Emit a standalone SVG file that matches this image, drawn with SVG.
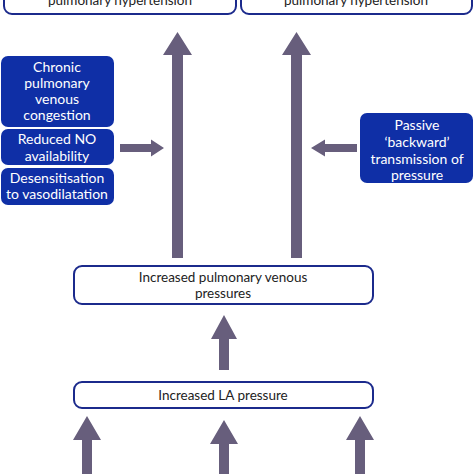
<svg xmlns="http://www.w3.org/2000/svg" width="474" height="474" viewBox="0 0 474 474">
<defs>
<style>
.wb{fill:#fff;stroke:#1b2a8c;stroke-width:2}
.bb{fill:#0f2fa6}
.t{font-family:Lato,"Open Sans","Liberation Sans",sans-serif;font-size:13.5px;fill:#222;text-anchor:middle}
.tw{font-family:Lato,"Open Sans","Liberation Sans",sans-serif;font-size:14px;fill:#fff;text-anchor:middle}
.ar{fill:#675e7c}
</style>
</defs>
<rect width="474" height="474" fill="#fff"/>
<g id="top-left">
<rect class="wb" x="4" y="-20" width="232" height="34" rx="8"/>
<text class="t" x="120" y="5">pulmonary hypertension</text>
</g>
<g id="top-right">
<rect class="wb" x="241" y="-20" width="231" height="34" rx="8"/>
<text class="t" x="356" y="5">pulmonary hypertension</text>
</g>
<g id="chronic">
<rect class="bb" x="1" y="56" width="113" height="71" rx="7"/>
<text class="tw" x="57" y="72">Chronic</text>
<text class="tw" x="57" y="88">pulmonary</text>
<text class="tw" x="57" y="104">venous</text>
<text class="tw" x="57" y="120">congestion</text>
</g>
<g id="reduced-no">
<rect class="bb" x="1" y="129" width="113" height="36" rx="7"/>
<text class="tw" x="57" y="144">Reduced NO</text>
<text class="tw" x="57" y="161">availability</text>
</g>
<g id="desens">
<rect class="bb" x="1" y="168" width="113" height="37" rx="7"/>
<text class="tw" x="57" y="183">Desensitisation</text>
<text class="tw" x="57" y="199">to vasodilatation</text>
</g>
<g id="passive">
<rect class="bb" x="360" y="113" width="113" height="70" rx="7"/>
<text class="tw" x="417" y="130">Passive</text>
<text class="tw" x="417" y="147">‘backward’</text>
<text class="tw" x="417" y="164">transmission of</text>
<text class="tw" x="417" y="180">pressure</text>
</g>
<g id="pulm-venous">
<rect class="wb" x="74" y="266" width="299" height="38" rx="8"/>
<text class="t" x="223" y="282">Increased pulmonary venous</text>
<text class="t" x="223" y="298">pressures</text>
</g>
<g id="la-pressure">
<rect class="wb" x="74" y="382" width="299" height="26" rx="8"/>
<text class="t" x="223" y="400">Increased LA pressure</text>
</g>
<g id="connectors">
<polygon class="ar" points="172,258 172,55 163,55 177.5,32 192,55 183,55 183,258"/>
<polygon class="ar" points="291,258 291,55 282,55 296.5,32 311,55 302,55 302,258"/>
<polygon class="ar" points="120,144 151,144 151,139.5 164,148 151,156.5 151,152 120,152"/>
<polygon class="ar" points="357,144 325,144 325,139.5 311,148 325,156.5 325,152 357,152"/>
<polygon class="ar" points="219,370 219,339 211,339 224,315 237,339 229,339 229,370"/>
<polygon class="ar" points="82,474 82,440 73,440 87,416 101,440 92,440 92,474"/>
<polygon class="ar" points="219,474 219,444 210,444 224,420 238,444 229,444 229,474"/>
<polygon class="ar" points="355,474 355,440 346,440 360,416 374,440 365,440 365,474"/>
</g>
</svg>
